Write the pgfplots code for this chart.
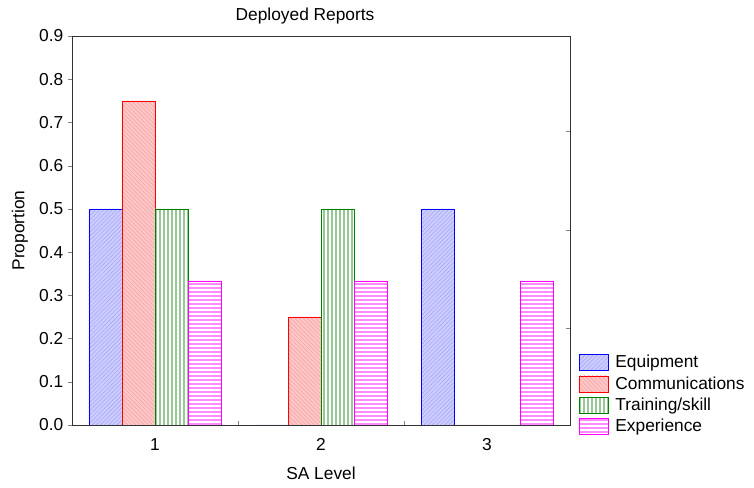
\documentclass[border=0pt]{standalone}
\usepackage{fontspec}
\setmainfont{Liberation Sans}
\usepackage{pgfplots}
\pgfplotsset{compat=1.18}
\usetikzlibrary{patterns.meta}

\definecolor{eqedge}{RGB}{0,0,255}
\definecolor{eqfill}{RGB}{205,205,255}
\definecolor{eqline}{RGB}{170,170,245}
\definecolor{coedge}{RGB}{255,0,0}
\definecolor{cofill}{RGB}{255,200,200}
\definecolor{coline}{RGB}{245,165,165}
\definecolor{tredge}{RGB}{0,128,0}
\definecolor{trline}{RGB}{150,200,150}
\definecolor{exedge}{RGB}{255,0,255}
\definecolor{exline}{RGB}{255,140,255}

\begin{document}
\begin{tikzpicture}
\useasboundingbox (-54pt,-47.25pt) rectangle (511.5pt,318.75pt);

\begin{axis}[
  width=373.5pt, height=291.75pt,
  scale only axis,
  at={(0pt,0pt)}, anchor=south west,
  ybar=0pt, bar width=24.75pt,
  xmin=0.5, xmax=3.5,
  ymin=0, ymax=0.9,
  xtick={1,2,3},
  major x tick style={draw=none},
  ytick={0,0.1,...,0.9},
  ytick pos=left,
  tick align=outside,
  major tick length=3pt,
  yticklabel style={/pgf/number format/.cd,fixed,fixed zerofill,precision=1},
  xticklabel style={yshift=-3.5pt},
  /pgf/number format/assume math mode=true,
  tick label style={font=\fontsize{13}{15}\selectfont},
  label style={font=\fontsize{13}{15}\selectfont},
  xlabel={SA Level},
  xlabel style={at={(axis description cs:0.5,-0.1234)}, anchor=center},
  ylabel={Proportion},
  ylabel style={at={(axis description cs:-0.1044,0.5)}, anchor=center},
  title={Deployed Reports},
  title style={at={(axis description cs:0.468,1.031)}, anchor=center, font=\fontsize{13}{15}\selectfont},
  axis line style={black!80},
  legend style={at={(rel axis cs:1.018,0.185)}, anchor=north west, draw=none, fill=none,
    font=\fontsize{13}{15}\selectfont, row sep=2pt, column sep=3.5pt, inner sep=0pt,
    nodes={inner sep=1.5pt}},
  legend cell align=left,
  legend image code/.code={\draw[#1] (0pt,-6pt) rectangle (21.75pt,6pt);},
]
\addplot[draw=eqedge, fill=eqfill, postaction={pattern={Lines[angle=45,distance=2.2pt,line width=0.5pt]}, pattern color=eqline}] coordinates {(1,0.5) (2,0) (3,0.5)};
\addplot[draw=coedge, fill=cofill, postaction={pattern={Lines[angle=-45,distance=2.2pt,line width=0.5pt]}, pattern color=coline}] coordinates {(1,0.75) (2,0.25) (3,0)};
\addplot[draw=tredge, pattern={Lines[angle=90,distance=3pt,line width=1.6pt]}, pattern color=trline] coordinates {(1,0.5) (2,0.5) (3,0)};
\addplot[draw=exedge, pattern={Lines[angle=0,distance=3pt,line width=1.6pt]}, pattern color=exline] coordinates {(1,1/3) (2,1/3) (3,1/3)};
\legend{Equipment,Communications,Training/skill,Experience}
\end{axis}

\begin{axis}[
  width=373.5pt, height=291.75pt,
  scale only axis,
  at={(0pt,0pt)}, anchor=south west,
  xmin=0.5, xmax=3.5,
  ymin=0, ymax=0.9,
  axis x line*=bottom, axis y line*=right,
  axis line style={draw=none},
  xtick={1.5,2.5}, xticklabels={},
  ytick={0.2245,0.451,0.68}, yticklabels={},
  tick align=inside, major tick length=3pt,
]
\end{axis}
\end{tikzpicture}
\end{document}
